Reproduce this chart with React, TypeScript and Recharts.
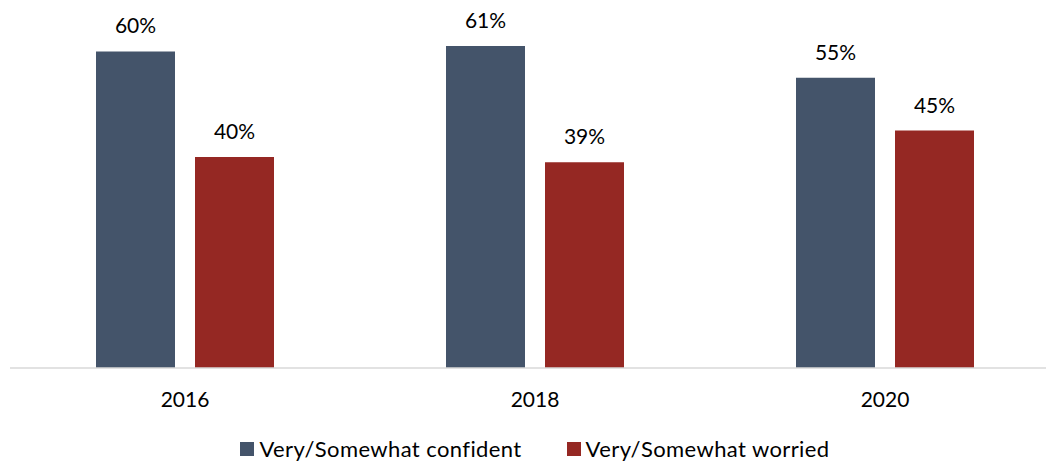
import { Bar, BarChart, LabelList, Legend, XAxis, YAxis } from "recharts";

const years = ["2016", "2018", "2020"];
const confident = [60, 61, 55];
const worried = [40, 39, 45];

const data = years.map((year, i) => ({
  year,
  confident: confident[i],
  worried: worried[i],
}));

const BLUE = "#44546A";
const RED = "#952823";
const FONT = "Lato, 'Open Sans', sans-serif";

const legendItems = [
  { label: "Very/Somewhat confident", color: BLUE },
  { label: "Very/Somewhat worried", color: RED },
];

function ChartLegend() {
  return (
    <div
      style={{
        display: "flex",
        justifyContent: "center",
        gap: 45,
        fontFamily: FONT,
        fontSize: 22,
        letterSpacing: 0.4,
        color: "#000",
        lineHeight: "24px",
      }}
    >
      {legendItems.map((item) => (
        <div key={item.label} style={{ display: "flex", alignItems: "center" }}>
          <span
            style={{
              display: "inline-block",
              width: 14,
              height: 14,
              background: item.color,
              marginRight: 5,
            }}
          />
          <span>{item.label}</span>
        </div>
      ))}
    </div>
  );
}

const pct = (v: number) => `${v}%`;

export default function App() {
  return (
    <div
      style={{
        position: "absolute",
        left: 0,
        top: 0,
        width: 1046,
        height: 464,
        overflow: "hidden",
        background: "#fff",
      }}
    >
      <BarChart
        width={1070}
        height={464}
        data={data}
        margin={{ top: 25, right: 10, left: 10, bottom: 32 }}
        barGap={20}
        barCategoryGap={86}
      >
        <XAxis
          dataKey="year"
          tickLine={false}
          tickMargin={18}
          height={40}
          axisLine={{ stroke: "#d9d9d9", strokeWidth: 1.5 }}
          tick={{ fontSize: 21, fill: "#000", fontFamily: FONT }}
        />
        <YAxis hide domain={[0, 65]} />
        <Legend
          verticalAlign="bottom"
          content={<ChartLegend />}
          wrapperStyle={{ top: 437, left: 0, width: 1070 }}
        />
        <Bar dataKey="confident" fill={BLUE} isAnimationActive={false}>
          <LabelList
            dataKey="confident"
            position="top"
            offset={18}
            formatter={pct}
            style={{ fontSize: 21, fill: "#000", fontFamily: FONT }}
          />
        </Bar>
        <Bar dataKey="worried" fill={RED} isAnimationActive={false}>
          <LabelList
            dataKey="worried"
            position="top"
            offset={18}
            formatter={pct}
            style={{ fontSize: 21, fill: "#000", fontFamily: FONT }}
          />
        </Bar>
      </BarChart>
    </div>
  );
}
